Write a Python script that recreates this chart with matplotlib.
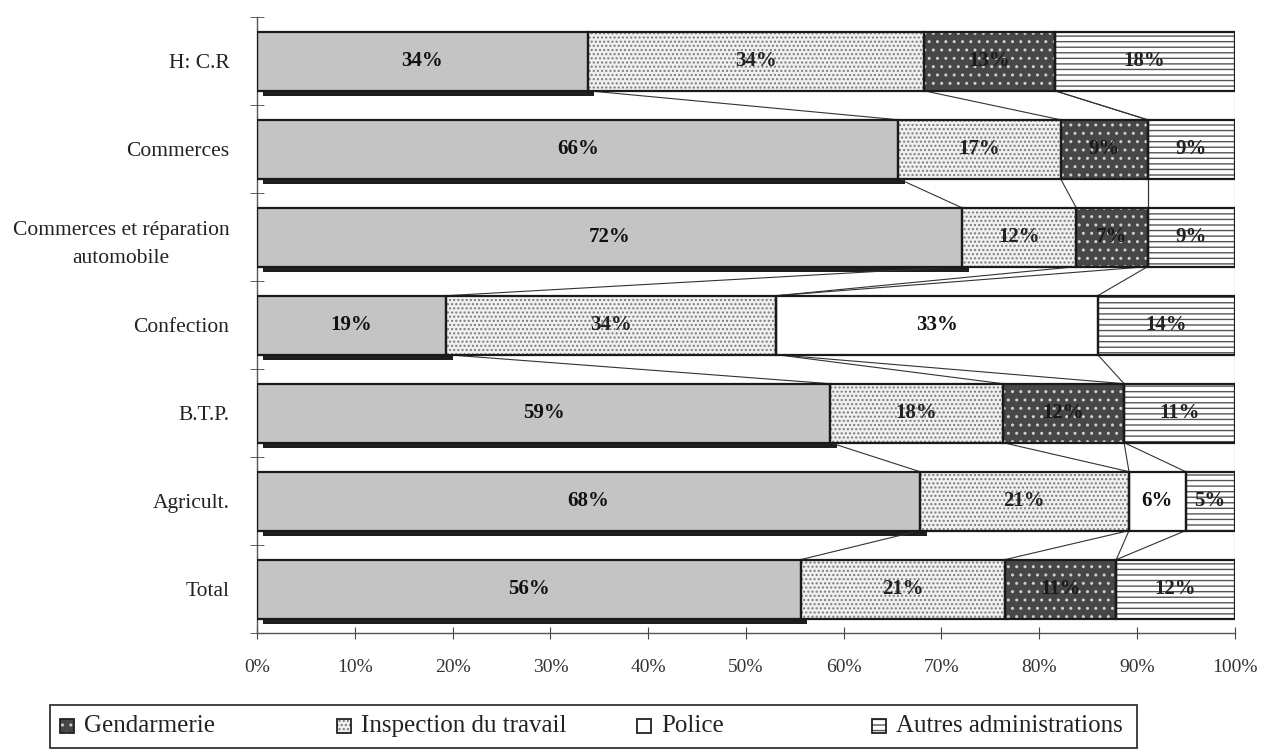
import numpy as np
import matplotlib
matplotlib.use("Agg")
import matplotlib.pyplot as plt
from matplotlib.patches import Rectangle

plt.rcParams['font.family'] = ['Liberation Serif', 'DejaVu Serif']
plt.rcParams['hatch.linewidth'] = 1.0

categories = ["H: C.R", "Commerces", "Commerces et réparation\nautomobile",
              "Confection", "B.T.P.", "Agricult.", "Total"]

# shares in %
first_share = [33.8, 65.6, 72.1, 19.3, 58.6, 67.8, 55.6]
inspection = [34.4, 16.6, 11.7, 33.8, 17.7, 21.4, 20.9]
gendarmerie = [13.4, 8.9, 7.3, 0, 12.4, 0, 11.4]
police = [0, 0, 0, 32.9, 0, 5.8, 0]
autres = [18.4, 8.9, 8.9, 14.0, 11.3, 5.0, 12.1]

legend_labels = ["Gendarmerie", "Inspection du travail", "Police",
                 "Autres administrations"]
x_ticks = np.arange(0, 101, 10)

series = [first_share, inspection, gendarmerie, police, autres]
styles = [
    dict(fc="#c4c4c4", hatch=None, hc="#c4c4c4", tc="#111111"),
    dict(fc="#f0f0f0", hatch="....", hc="#7a7a7a", tc="#222222"),
    dict(fc="#474747", hatch="..", hc="#cfcfcf", tc="#1a1a1a"),
    dict(fc="white", hatch=None, hc="white", tc="#111111"),
    dict(fc="white", hatch="---", hc="#555555", tc="#222222"),
]

fig = plt.figure(figsize=(12.61, 7.51), dpi=100)
ax = fig.add_axes([0.204, 0.157, 0.775, 0.820])

y = np.arange(len(categories))
h = 0.67
vals = np.array(series, dtype=float)
cum = np.cumsum(vals, axis=0)
lefts = cum - vals

# dark shadow under the first segment
ax.barh(y + h / 2 + 0.01, vals[0] + 0.1, left=0.6, height=0.1,
        color="#1e1e1e", zorder=1)

for k, st in enumerate(styles):
    ax.barh(y, vals[k], left=lefts[k], height=h, color=st["fc"],
            hatch=st["hatch"], edgecolor=st["hc"], linewidth=0, zorder=2)
    ax.barh(y, vals[k], left=lefts[k], height=h, fill=False,
            edgecolor="#1a1a1a", linewidth=1.6, zorder=3)
    for i in range(len(categories)):
        v = vals[k, i]
        if v <= 0:
            continue
        ax.text(lefts[k, i] + v / 2, y[i], f"{v:.0f}%", ha="center",
                va="center", fontsize=15, fontweight="bold", color=st["tc"],
                zorder=4)

# series lines between bars
for k in range(len(series)):
    for i in range(len(categories) - 1):
        ax.plot([cum[k, i], cum[k, i + 1]], [y[i] + h / 2, y[i + 1] - h / 2],
                color="#333333", linewidth=0.8, zorder=1)

ax.set_xlim(0, 100)
ax.set_ylim(len(categories) - 0.5, -0.5)
ax.set_xticks(x_ticks)
ax.set_xticklabels([f"{t}%" for t in x_ticks], fontsize=14, color="#333333")
ax.set_yticks(y)
ax.set_yticklabels(categories, fontsize=15.5, color="#222222",
                   multialignment="center", linespacing=1.65)
ax.set_yticks(np.arange(-0.5, len(categories), 1), minor=True)
ax.tick_params(axis="y", which="major", length=0, pad=20)
ax.tick_params(axis="y", which="minor", length=10, direction="inout",
               color="#444444")
ax.tick_params(axis="x", length=9, direction="inout", color="#444444", pad=14)
for s in ["top", "right"]:
    ax.spines[s].set_visible(False)
for s in ["left", "bottom"]:
    ax.spines[s].set_color("#555555")
    ax.spines[s].set_linewidth(1.0)

# legend box along the bottom
W, H = 1261.0, 751.0
fig.patches.append(Rectangle((50 / W, 1 - 748 / H), 1087 / W, 43 / H,
                             transform=fig.transFigure, fill=False,
                             edgecolor="#333333", linewidth=1.3))
handle_x = [60, 337, 637, 872]
leg_styles = [styles[2], styles[1], styles[3], styles[4]]
sq = 14
for hx, lab, st in zip(handle_x, legend_labels, leg_styles):
    r0 = Rectangle((hx / W, 1 - (726 + sq / 2) / H), sq / W, sq / H,
                   transform=fig.transFigure, facecolor=st["fc"],
                   hatch=st["hatch"], edgecolor=st["hc"], linewidth=0)
    r1 = Rectangle((hx / W, 1 - (726 + sq / 2) / H), sq / W, sq / H,
                   transform=fig.transFigure, fill=False,
                   edgecolor="#222222", linewidth=1.3)
    fig.patches.extend([r0, r1])
    fig.text((hx + sq + 10) / W, 1 - 726 / H, lab, ha="left", va="center",
             fontsize=18, color="#222222")

fig.savefig("out.png", dpi=100)
